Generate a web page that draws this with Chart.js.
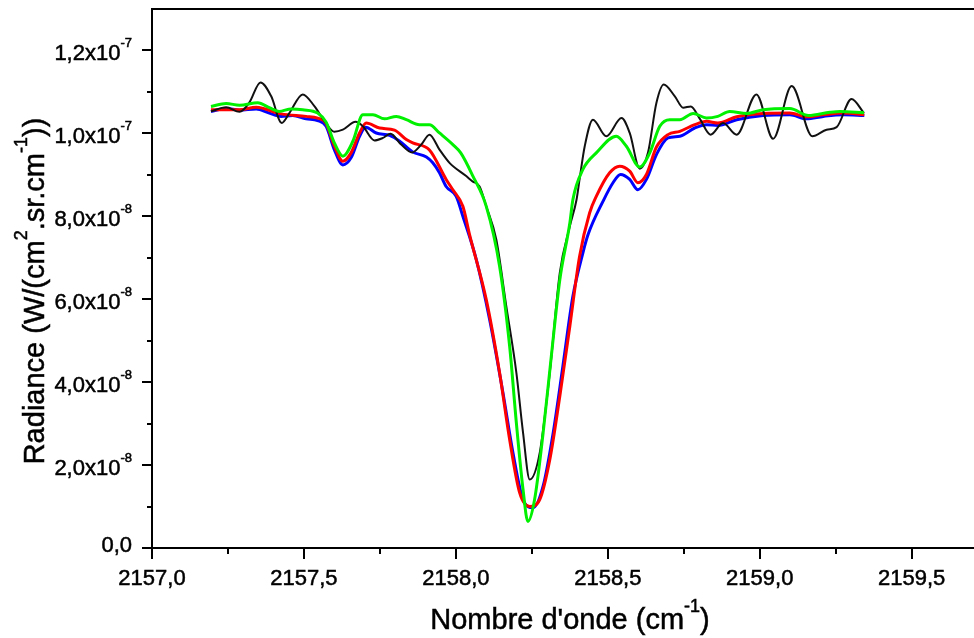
<!DOCTYPE html>
<html>
<head>
<meta charset="utf-8">
<script src="https://cdn.jsdelivr.net/npm/chart.js@4.4.0/dist/chart.umd.min.js"></script>
<style>
    html, body { margin: 0; padding: 0; background: #fff; }
    canvas { display: block; }
</style>
</head>
<body>
<canvas id="radianceChart" width="974" height="638"></canvas>
<script>
// Radiance values are in units of 1e-8 W/(cm2.sr.cm-1)
const blackX = [2157.194, 2157.244, 2157.288, 2157.320, 2157.357, 2157.392, 2157.427, 2157.452, 2157.496, 2157.535, 2157.568, 2157.600, 2157.628, 2157.670, 2157.694, 2157.732, 2157.760, 2157.785, 2157.820, 2157.856, 2157.886, 2157.913, 2157.946, 2157.979, 2158.034, 2158.055, 2158.078, 2158.100, 2158.133, 2158.166, 2158.199, 2158.221, 2158.243, 2158.276, 2158.309, 2158.342, 2158.375, 2158.397, 2158.407, 2158.424, 2158.451, 2158.495, 2158.545, 2158.572, 2158.605, 2158.632, 2158.660, 2158.684, 2158.720, 2158.748, 2158.773, 2158.803, 2158.838, 2158.879, 2158.924, 2158.989, 2159.044, 2159.105, 2159.173, 2159.220, 2159.253, 2159.302, 2159.343];
const blackY = [10.53, 10.63, 10.52, 10.74, 11.23, 10.90, 10.25, 10.49, 10.94, 10.65, 10.29, 10.04, 10.09, 10.28, 10.17, 9.83, 9.89, 9.99, 9.73, 9.54, 9.73, 9.97, 9.61, 9.29, 8.97, 8.84, 8.72, 8.24, 7.44, 5.83, 4.23, 2.78, 1.65, 2.30, 4.23, 6.64, 7.76, 8.40, 8.89, 9.69, 10.33, 9.93, 10.37, 10.01, 9.15, 9.53, 10.74, 11.18, 10.90, 10.62, 10.65, 10.35, 9.97, 10.25, 9.97, 10.94, 9.87, 11.14, 9.93, 10.09, 10.15, 10.83, 10.49];

const blueX = [2157.194, 2157.244, 2157.288, 2157.343, 2157.386, 2157.425, 2157.463, 2157.507, 2157.545, 2157.573, 2157.600, 2157.628, 2157.655, 2157.683, 2157.703, 2157.738, 2157.782, 2157.815, 2157.858, 2157.903, 2157.924, 2157.946, 2157.968, 2158.001, 2158.023, 2158.067, 2158.111, 2158.155, 2158.188, 2158.221, 2158.254, 2158.287, 2158.320, 2158.352, 2158.385, 2158.418, 2158.435, 2158.484, 2158.517, 2158.542, 2158.572, 2158.599, 2158.627, 2158.660, 2158.698, 2158.737, 2158.786, 2158.825, 2158.862, 2158.924, 2159.011, 2159.099, 2159.154, 2159.209, 2159.275, 2159.344];
const blueY = [10.53, 10.60, 10.56, 10.59, 10.49, 10.41, 10.43, 10.35, 10.31, 10.17, 9.61, 9.24, 9.41, 9.93, 10.15, 10.01, 9.95, 9.81, 9.55, 9.43, 9.29, 9.05, 8.72, 8.48, 8.00, 6.96, 5.51, 3.74, 2.29, 1.17, 0.97, 1.49, 2.77, 4.38, 6.07, 7.12, 7.56, 8.36, 8.81, 9.01, 8.89, 8.64, 8.89, 9.49, 9.89, 9.93, 10.13, 10.21, 10.19, 10.33, 10.43, 10.45, 10.35, 10.41, 10.45, 10.43];

const redX = [2157.194, 2157.288, 2157.343, 2157.425, 2157.507, 2157.545, 2157.573, 2157.600, 2157.628, 2157.655, 2157.683, 2157.705, 2157.749, 2157.798, 2157.837, 2157.858, 2157.913, 2157.968, 2157.990, 2158.023, 2158.045, 2158.100, 2158.144, 2158.177, 2158.210, 2158.243, 2158.276, 2158.309, 2158.342, 2158.375, 2158.407, 2158.440, 2158.462, 2158.506, 2158.539, 2158.572, 2158.599, 2158.627, 2158.660, 2158.698, 2158.737, 2158.786, 2158.825, 2158.862, 2158.924, 2159.011, 2159.099, 2159.154, 2159.209, 2159.275, 2159.344];
const redY = [10.57, 10.57, 10.63, 10.47, 10.41, 10.37, 10.24, 9.70, 9.33, 9.53, 10.01, 10.25, 10.13, 10.08, 9.85, 9.77, 9.60, 8.89, 8.64, 8.24, 7.56, 5.99, 4.22, 2.61, 1.33, 1.00, 1.17, 2.13, 3.66, 5.35, 7.03, 8.08, 8.48, 9.05, 9.21, 9.09, 8.81, 9.01, 9.67, 9.97, 10.05, 10.21, 10.29, 10.25, 10.40, 10.48, 10.49, 10.40, 10.45, 10.49, 10.45];

const greenX = [2157.194, 2157.244, 2157.288, 2157.348, 2157.386, 2157.418, 2157.458, 2157.496, 2157.545, 2157.573, 2157.600, 2157.628, 2157.661, 2157.694, 2157.727, 2157.765, 2157.804, 2157.837, 2157.880, 2157.913, 2157.946, 2157.990, 2158.016, 2158.056, 2158.100, 2158.144, 2158.177, 2158.199, 2158.221, 2158.237, 2158.259, 2158.287, 2158.314, 2158.342, 2158.375, 2158.385, 2158.418, 2158.462, 2158.528, 2158.561, 2158.605, 2158.638, 2158.671, 2158.704, 2158.737, 2158.781, 2158.825, 2158.862, 2158.901, 2158.957, 2159.011, 2159.099, 2159.160, 2159.231, 2159.264, 2159.343];
const greenY = [10.65, 10.72, 10.68, 10.74, 10.62, 10.53, 10.59, 10.57, 10.49, 10.27, 9.77, 9.45, 9.81, 10.45, 10.45, 10.35, 10.41, 10.33, 10.21, 10.21, 10.01, 9.73, 9.53, 8.97, 8.24, 6.79, 4.86, 3.02, 1.41, 0.64, 1.17, 2.77, 4.62, 6.47, 7.84, 8.40, 9.13, 9.53, 9.93, 9.69, 9.19, 9.53, 10.17, 10.33, 10.33, 10.48, 10.37, 10.41, 10.53, 10.48, 10.57, 10.60, 10.43, 10.51, 10.53, 10.50];

// Axis ticks and labels
const xTicks = [2157.0, 2157.5, 2158.0, 2158.5, 2159.0, 2159.5];
const xTickLabels = ['2157,0', '2157,5', '2158,0', '2158,5', '2159,0', '2159,5'];
const xMinorTicks = [2157.25, 2157.75, 2158.25, 2158.75, 2159.25];
const yTicks = [0, 2, 4, 6, 8, 10, 12];
const yTickLabels = [['0,0', ''], ['2,0x10', '-8'], ['4,0x10', '-8'], ['6,0x10', '-8'], ['8,0x10', '-8'], ['1,0x10', '-7'], ['1,2x10', '-7']];
const yMinorTicks = [1, 3, 5, 7, 9, 11];

const FONT = '"Liberation Sans", Arial, Helvetica, sans-serif';

function toPoints(xs, ys) {
    return xs.map((x, i) => ({ x: x, y: ys[i] }));
}

function font(size) {
    return size + 'px ' + FONT;
}

// Draw text made of normal and superscript pieces
function drawRich(ctx, parts, x, y, size, supSize, rise, align) {
    let width = 0;
    parts.forEach(p => {
        ctx.font = font(p.sup ? supSize : size);
        width += ctx.measureText(p.t).width;
    });
    let cx = x;
    if (align === 'right') cx = x - width;
    if (align === 'center') cx = x - width / 2;
    parts.forEach(p => {
        ctx.font = font(p.sup ? supSize : size);
        const ty = p.sup ? y - rise : y;
        ctx.fillText(p.t, cx, ty);
        ctx.strokeText(p.t, cx, ty); // a bit heavier, like the original raster
        cx += ctx.measureText(p.t).width;
    });
}

// Origin-style frame, ticks and titles
const axesPlugin = {
    id: 'originAxes',
    afterDraw(chart) {
        const { ctx, chartArea: area, scales } = chart;
        const xs = scales.x;
        const ys = scales.y;
        ctx.save();
        ctx.strokeStyle = '#000';
        ctx.fillStyle = '#000';
        ctx.lineWidth = 2;

        ctx.beginPath();
        ctx.moveTo(area.right, area.top);
        ctx.lineTo(area.left, area.top);
        ctx.lineTo(area.left, area.bottom);
        ctx.lineTo(area.right, area.bottom);
        ctx.stroke();

        // tick marks
        ctx.beginPath();
        xTicks.forEach(v => {
            const px = Math.round(xs.getPixelForValue(v));
            ctx.moveTo(px, area.bottom);
            ctx.lineTo(px, area.bottom + 11);
        });
        xMinorTicks.forEach(v => {
            const px = Math.round(xs.getPixelForValue(v));
            ctx.moveTo(px, area.bottom);
            ctx.lineTo(px, area.bottom + 6);
        });
        yTicks.forEach(v => {
            const py = Math.round(ys.getPixelForValue(v));
            ctx.moveTo(area.left, py);
            ctx.lineTo(area.left - 10, py);
        });
        yMinorTicks.forEach(v => {
            const py = Math.round(ys.getPixelForValue(v));
            ctx.moveTo(area.left, py);
            ctx.lineTo(area.left - 5, py);
        });
        ctx.stroke();

        // tick labels
        ctx.lineWidth = 0.5;
        ctx.textAlign = 'left';
        ctx.textBaseline = 'alphabetic';
        xTicks.forEach((v, i) => {
            const px = xs.getPixelForValue(v);
            drawRich(ctx, [{ t: xTickLabels[i] }], px, area.bottom + 37, 22, 14, 0, 'center');
        });
        yTicks.forEach((v, i) => {
            const py = ys.getPixelForValue(v);
            const [main, exp] = yTickLabels[i];
            const parts = [{ t: main }];
            if (exp) parts.push({ t: exp, sup: true });
            drawRich(ctx, parts, 132, py + (exp ? 10 : 4), 22, 13, 13, 'right');
        });

        // axis titles
        drawRich(ctx, [
            { t: "Nombre d'onde (cm" }, { t: '-1', sup: true }, { t: ')' }
        ], 570, 629, 29, 18, 17, 'center');

        ctx.translate(44, 291);
        ctx.rotate(-Math.PI / 2);
        drawRich(ctx, [
            { t: 'Radiance (W/(cm' }, { t: '2', sup: true }, { t: '.sr.cm' }, { t: '-1', sup: true }, { t: '))' }
        ], 0, 0, 29, 18, 17, 'center');
        ctx.restore();
    }
};

function makeDataset(xs, ys, color, width) {
    return {
        data: toPoints(xs, ys),
        borderColor: color,
        borderWidth: width,
        pointRadius: 0,
        fill: false,
        cubicInterpolationMode: 'monotone'
    };
}

function initChart() {
    const ctx = document.getElementById('radianceChart').getContext('2d');
    new Chart(ctx, {
        type: 'line',
        data: {
            datasets: [
                makeDataset(greenX, greenY, '#00f000', 3),
                makeDataset(blackX, blackY, '#111111', 2),
                makeDataset(redX, redY, '#ff0000', 3),
                makeDataset(blueX, blueY, '#0000ff', 3)
            ]
        },
        options: {
            responsive: false,
            animation: false,
            devicePixelRatio: 1,
            layout: { padding: { left: 152, top: 9, right: 0, bottom: 90 } },
            scales: {
                x: { type: 'linear', min: 2157, max: 2159.705, display: false },
                y: { type: 'linear', min: 0, max: 13, display: false }
            },
            plugins: {
                legend: { display: false },
                tooltip: { enabled: false }
            }
        },
        plugins: [axesPlugin]
    });
}

document.addEventListener('DOMContentLoaded', initChart);
</script>
</body>
</html>
